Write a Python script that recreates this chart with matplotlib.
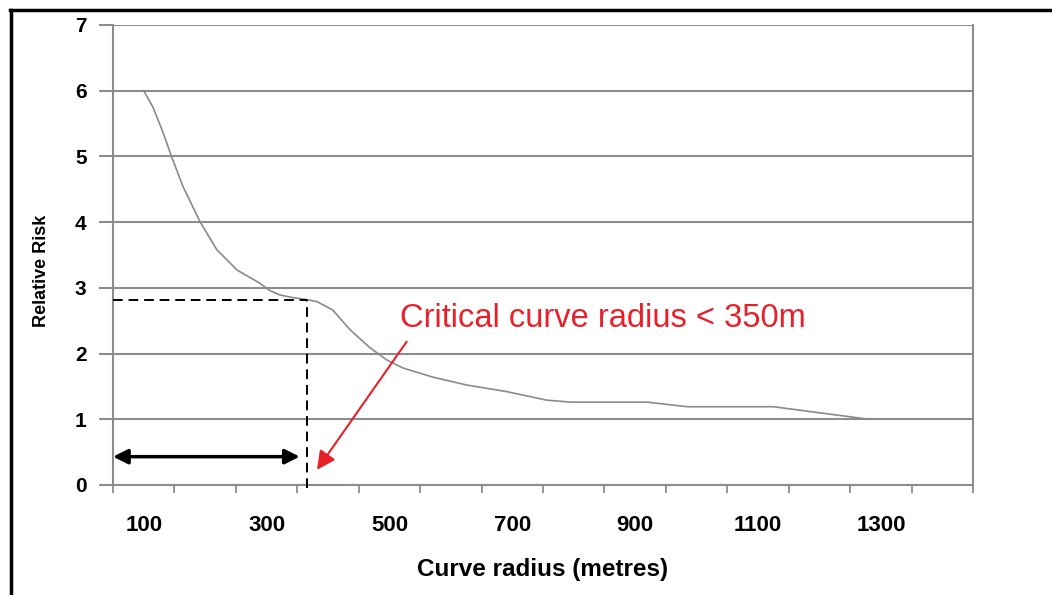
import matplotlib.pyplot as plt
from matplotlib.lines import Line2D

plt.rcParams['font.family'] = ['Liberation Sans', 'DejaVu Sans']

# data
radius = [100, 115, 130, 146, 164, 192, 219, 252, 289, 305, 322, 343, 366, 382, 408, 436, 468, 496, 522,
          571, 626, 691, 756, 795, 920, 985, 1125, 1280]
risk = [6.0, 5.75, 5.4, 4.98, 4.54, 4.0, 3.58, 3.27, 3.07, 2.96, 2.89, 2.85, 2.82, 2.79, 2.66, 2.36, 2.09,
        1.90, 1.78, 1.64, 1.52, 1.42, 1.29, 1.26, 1.26, 1.19, 1.19, 1.0]
x_labels = [100, 300, 500, 700, 900, 1100, 1300]
y_labels = [0, 1, 2, 3, 4, 5, 6, 7]
critical_radius = 366
critical_risk = 2.81
label_text = 'Critical curve radius < 350m'

grey = '#8c8c8c'

fig = plt.figure(figsize=(10.52, 5.95), dpi=100)
ax = fig.add_axes([0.1074, 0.185, 0.8176, 0.773])

ax.plot(radius, risk, color='#8a8a8a', lw=1.2, zorder=3)

ax.set_xlim(50, 1450)
ax.set_ylim(0, 7)

ax.set_yticks(y_labels)
ax.set_xticks(x_labels)
ax.set_xticks([50 + 100 * i for i in range(15)], minor=True)
ax.tick_params(axis='x', which='major', length=0, pad=22, labelsize=16)
ax.tick_params(axis='x', which='minor', length=6, width=1.3, color=grey, direction='out')
ax.tick_params(axis='y', length=10, width=1.5, color=grey, pad=9, labelsize=15)
for lab in ax.get_xticklabels() + ax.get_yticklabels():
    lab.set_fontweight('bold')

ax.grid(axis='y', color=grey, lw=1.5)
ax.set_axisbelow(True)
for s in ax.spines.values():
    s.set_color(grey)
    s.set_linewidth(1.5)
ax.spines['top'].set_visible(False)

ax.set_xlabel('Curve radius (metres)', fontsize=17.5, fontweight='bold')
ax.xaxis.set_label_coords(0.5, -0.158)
ax.set_ylabel('Relative Risk', fontsize=13, fontweight='bold')
ax.yaxis.set_label_coords(-0.073, 0.465)

# dashed guide lines
ax.plot([50, critical_radius], [critical_risk, critical_risk], color='black', ls=(0, (5, 3)), lw=1.4, zorder=4)
ax.plot([critical_radius, critical_radius], [-0.05, critical_risk], color='black', ls=(0, (5, 3)), lw=1.4,
        zorder=4, clip_on=False)

# double arrow for range
ax.annotate('', xy=(50, 0.43), xytext=(354, 0.43),
            arrowprops=dict(arrowstyle='<|-|>', color='black', lw=2.5, mutation_scale=22,
                            shrinkA=0, shrinkB=0), zorder=5)

# red label and arrow
ax.text(517, 2.54, label_text, color='#e8202a', fontsize=23.5, va='center', ha='left')
ax.annotate('', xy=(382, 0.23), xytext=(528, 2.18),
            arrowprops=dict(arrowstyle='-|>', color='#e8202a', lw=1.5, mutation_scale=28,
                            shrinkA=0, shrinkB=0), zorder=5)

# outer frame of the image
fig.add_artist(Line2D([0.0105, 0.0105], [0.0, 0.984], transform=fig.transFigure, color='black', lw=2.5))
fig.add_artist(Line2D([0.0095, 1.0], [0.984, 0.984], transform=fig.transFigure, color='black', lw=2.5))

fig.savefig('out.png', dpi=100)
